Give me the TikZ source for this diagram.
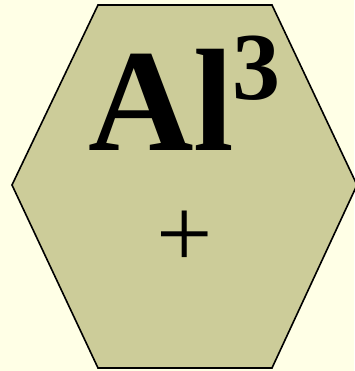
\documentclass[tikz,border=0pt]{standalone}
\usepackage{fontspec}
\setmainfont{Liberation Serif}
\usetikzlibrary{positioning}
\definecolor{paper}{HTML}{FFFFE6}
\definecolor{ionfill}{HTML}{CCCC99}

\begin{document}
\begin{tikzpicture}[x=1pt,y=1pt,
    ionlabel/.style={inner sep=0pt, anchor=base west}]
  % page and frame
  \fill[paper] (0,0) rectangle (354,371);
  \useasboundingbox (0,0) rectangle (354,371);
  \draw[line width=1.6pt, fill=ionfill, line join=miter]
    (98,366) -- (272,366) -- (357,186) -- (272,3) -- (98,3) -- (12,186) -- cycle;
  % the ion
  \node[ionlabel, font=\fontsize{146}{146}\selectfont\bfseries] (sym) at (88,220) {Al};
  \node[ionlabel, font=\fontsize{96}{96}\selectfont\bfseries] (chg) at (232,271) {3};
  \node[inner sep=0pt, font=\fontsize{100}{100}\selectfont] (sign) at (185,132) {+};
\end{tikzpicture}
\end{document}
